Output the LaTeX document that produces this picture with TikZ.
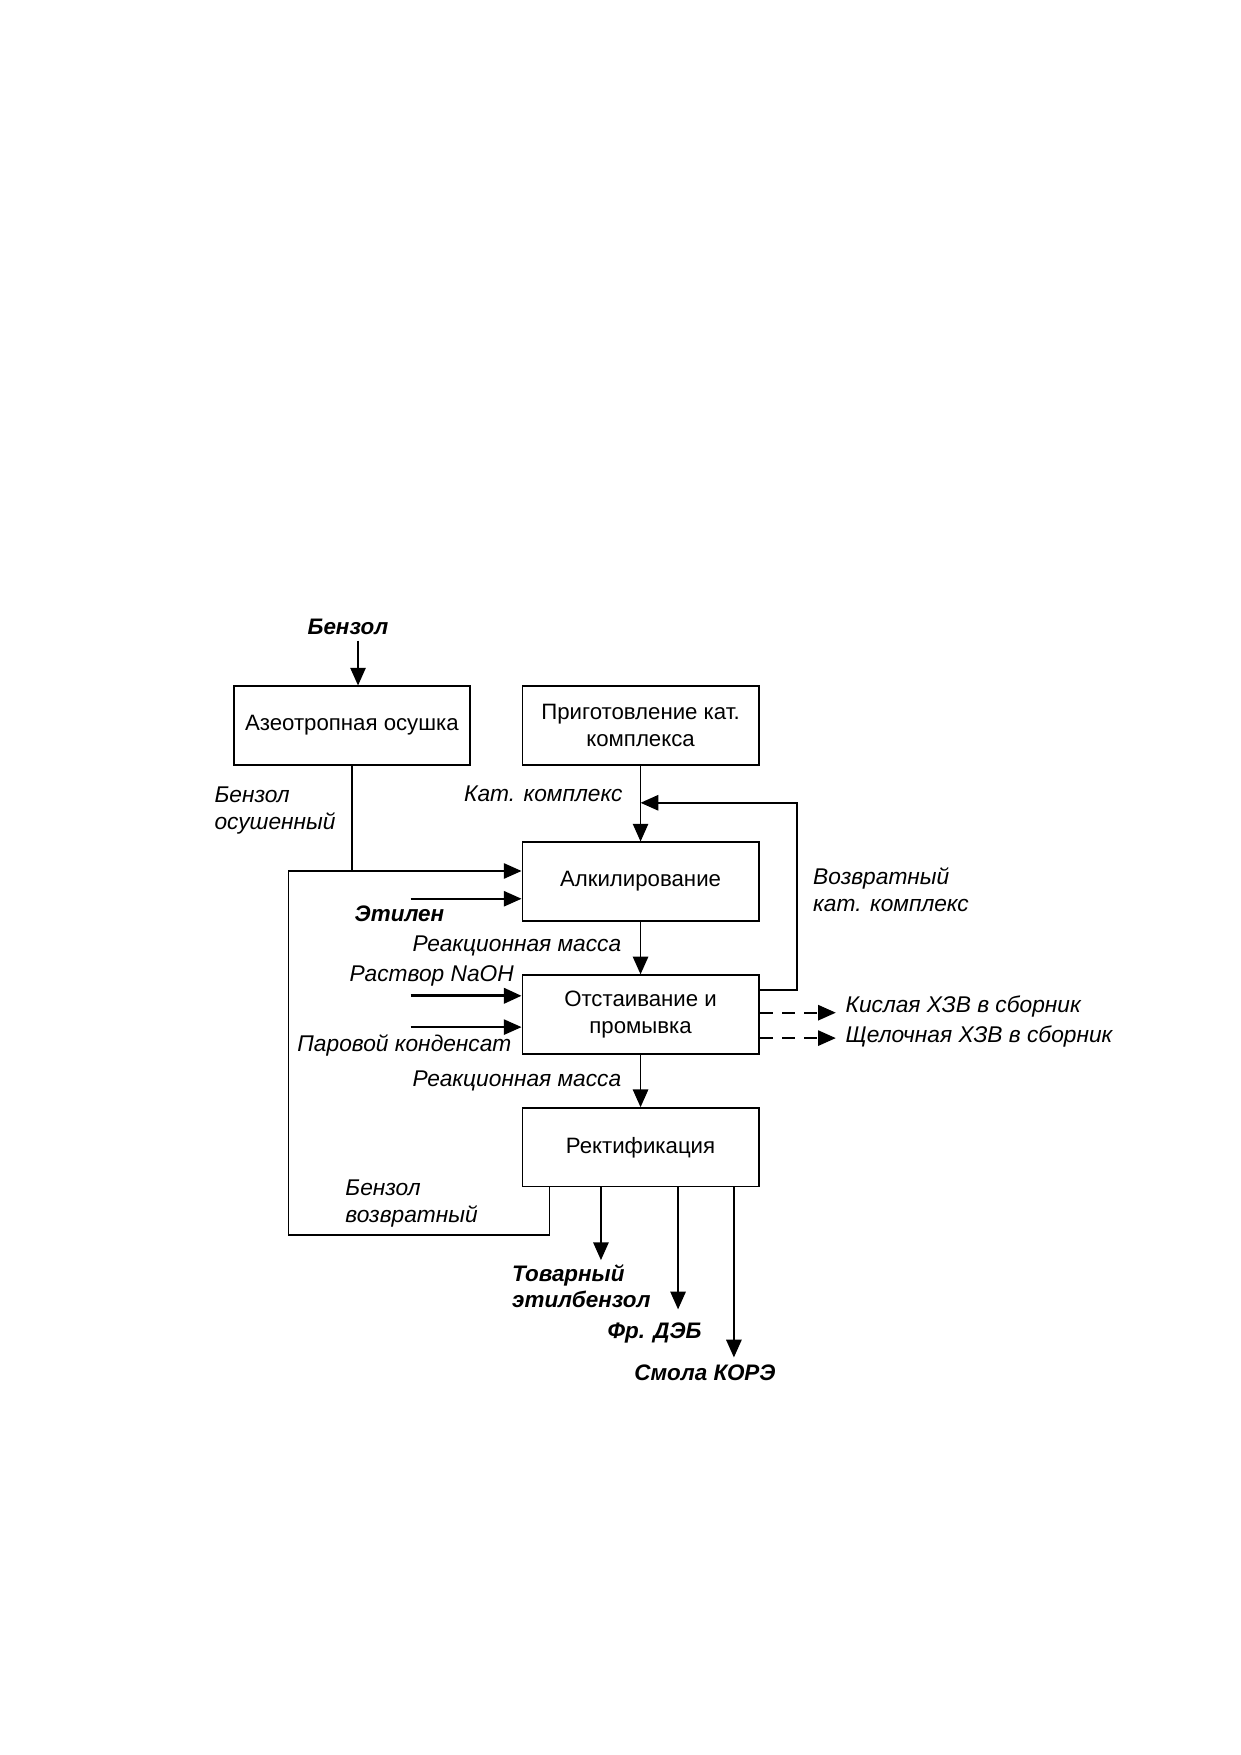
\documentclass[tikz,border=0pt]{standalone}
\usepackage{fontspec}
\setmainfont{Liberation Sans}
\usepackage{tikz}
\usetikzlibrary{arrows.meta,calc,positioning}
\tikzset{
    blok/.style={draw, line width=0.8pt, minimum width=4cm, minimum height=1.33cm, align=center, inner sep=2pt, font=\fontsize{10.7}{12.9}\selectfont},
    potok/.style={-{Triangle[length=3mm,width=2.6mm]}},
    shtrih/.style={dash pattern=on 2.2mm off 1.6mm},
    nadpis/.style={font=\fontsize{10.95}{12.9}\selectfont\itshape, inner sep=0pt},
    zhirn/.style={font=\fontsize{10.8}{12.9}\selectfont\bfseries\itshape, inner sep=0pt}
}

\begin{document}
\begin{tikzpicture}[line width=0.8pt]
    \useasboundingbox (0,0) rectangle (21,29.7);
    %%Блоки
    \node[blok] (azeo) at (5.955,17.42) {Азеотропная осушка};
    \node[blok] (prep) at (10.84,17.42) {Приготовление кат.\\комплекса};
    \node[blok] (alk) at (10.84,14.78) {Алкилирование};
    \node[blok, below=0.89cm of alk] (otst) {Отстаивание и\\промывка};
    \node[blok, below=0.89cm of otst] (rekt) {Ректификация};
    %%Точки входа и выхода
    \coordinate (benzin) at (6.059,18.86);
    \coordinate (alkin) at ([yshift=0.18cm]alk.west);
    \coordinate (etin) at ([yshift=-0.29cm]alk.west);
    \coordinate (etstart) at ([xshift=-1.875cm]etin);
    \coordinate (otstout) at ([yshift=0.41cm]otst.east);
    \coordinate (vozv) at (13.482,16.114);
    \coordinate (katin) at (prep.south |- vozv);
    \coordinate (naohin) at ([yshift=0.316cm]otst.west);
    \coordinate (naohstart) at ([xshift=-1.875cm]naohin);
    \coordinate (parin) at ([yshift=-0.214cm]otst.west);
    \coordinate (parstart) at ([xshift=-1.875cm]parin);
    \coordinate (kislout) at ([yshift=0.03cm]otst.east);
    \coordinate (kislend) at ([xshift=1.29cm]kislout);
    \coordinate (shchout) at ([yshift=-0.40cm]otst.east);
    \coordinate (shchend) at ([xshift=1.29cm]shchout);
    \coordinate (benzout) at ([xshift=-1.54cm]rekt.south);
    \coordinate (niz) at (4.885,8.805);
    \coordinate (tovout) at ([xshift=-0.67cm]rekt.south);
    \coordinate (tovend) at ([yshift=-1.23cm]tovout);
    \coordinate (debout) at ([xshift=0.635cm]rekt.south);
    \coordinate (debend) at ([yshift=-2.063cm]debout);
    \coordinate (koreout) at ([xshift=1.58cm]rekt.south);
    \coordinate (koreend) at ([yshift=-2.877cm]koreout);
    %%Потоки
    \draw[potok] (benzin) -- (benzin |- azeo.north);
    \draw (azeo.south) -- (azeo.south |- alkin);
    \draw[potok] (benzout) |- (niz) |- (alkin);
    \draw[potok] (etstart) -- (etin);
    \draw[potok] (prep) -- (alk);
    \draw[potok] (alk) -- (otst);
    \draw[potok] (otst) -- (rekt);
    \draw[potok] (otstout) -| (vozv) -- (katin);
    \draw[potok, line width=1.4pt] (naohstart) -- (naohin);
    \draw[potok] (parstart) -- (parin);
    \draw[potok, shtrih] (kislout) -- (kislend);
    \draw[potok, shtrih] (shchout) -- (shchend);
    \draw[potok] (tovout) -- (tovend);
    \draw[potok] (debout) -- (debend);
    \draw[potok] (koreout) -- (koreend);
    %%Надписи
    \node[zhirn] (lbenz) at (5.889,19.087) {Бензол};
    \node[nadpis, align=left, anchor=west] (lbenzos) at (3.617,15.98) {Бензол\\осушенный};
    \node[nadpis, anchor=east] (lkat) at (10.547,16.266) {Кат. комплекс};
    \node[zhirn] (let) at (6.76,14.24) {Этилен};
    \node[nadpis, align=left, anchor=west] (lvozkat) at (13.748,14.647) {Возвратный\\кат. комплекс};
    \node[nadpis, anchor=east] (lrm1) at (10.528,13.69) {Реакционная масса};
    \node[nadpis, anchor=east] (lnaoh) at (8.71,13.18) {Раствор NaOH};
    \node[nadpis, anchor=east] (lpar) at (8.67,12.005) {Паровой конденсат};
    \node[nadpis, anchor=west] (lkisl) at (14.296,12.668) {Кислая ХЗВ в сборник};
    \node[nadpis, anchor=west] (lshch) at (14.296,12.157) {Щелочная ХЗВ в сборник};
    \node[nadpis, anchor=east] (lrm2) at (10.528,11.40) {Реакционная масса};
    \node[nadpis, align=left, anchor=west] (lbenzv) at (5.832,9.335) {Бензол\\возвратный};
    \node[zhirn, align=left, anchor=west] (ltov) at (8.654,7.934) {Товарный\\этилбензол};
    \node[zhirn] (ldeb) at (11.077,7.139) {Фр. ДЭБ};
    \node[zhirn] (lkore) at (11.93,6.476) {Смола КОРЭ};
\end{tikzpicture}
\end{document}
